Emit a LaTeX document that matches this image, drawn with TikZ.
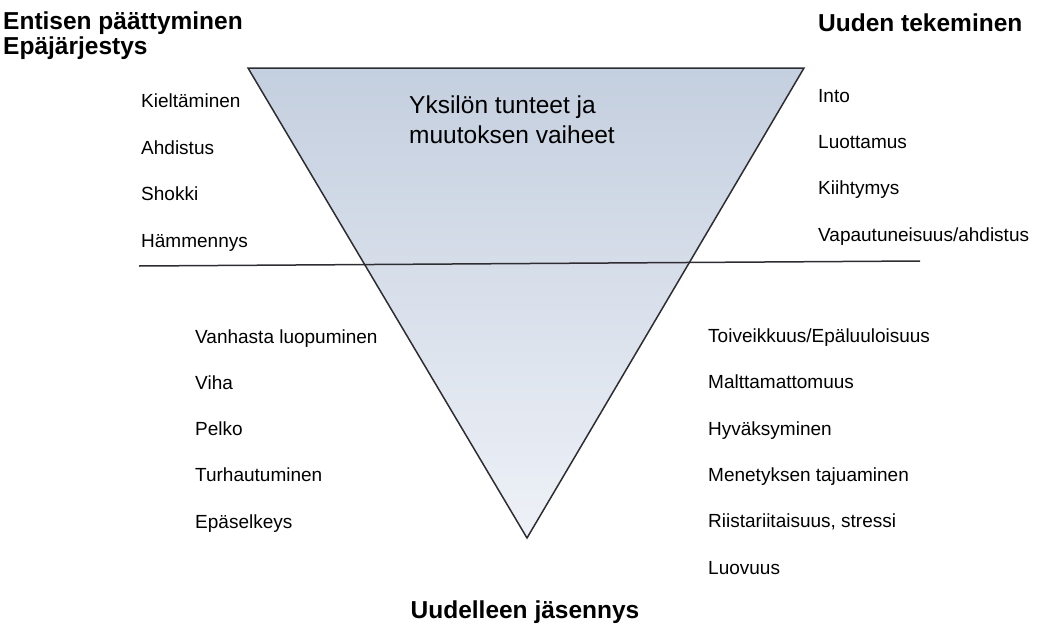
\documentclass[tikz,border=0pt]{standalone}
\usepackage{fontspec}
\setmainfont{Liberation Sans}
\definecolor{triTop}{RGB}{196,207,223}
\definecolor{triBot}{RGB}{238,241,247}
\definecolor{edge}{RGB}{45,45,50}
\begin{document}
\begin{tikzpicture}[x=1pt,y=-1pt,
  item/.style={anchor=base west,inner sep=0pt,font=\fontsize{19}{23}\selectfont},
  head/.style={anchor=base west,inner sep=0pt,font=\fontsize{24.5}{29}\selectfont\bfseries},
  centertxt/.style={anchor=base west,inner sep=0pt,align=left,font=\fontsize{24.5}{30}\selectfont},
  outline/.style={draw=edge,line width=1.5pt,line join=miter}]
\useasboundingbox (0,0) rectangle (1041,624);
% triangle
\coordinate (tl) at (248,68);
\coordinate (tr) at (804,68);
\coordinate (tip) at (527,538);
\shade[top color=triTop,bottom color=triBot] (tl) -- (tr) -- (tip) -- cycle;
\draw[outline] (tl) -- (tr) -- (tip) -- cycle;
% divider line
\coordinate (hl) at (139,266);
\coordinate (hr) at (920,261);
\draw[draw=edge,line width=1.5pt] (hl) -- (hr);
% headings
\node[head] (h1) at (3,29) {Entisen päättyminen};
\node[head] (h2) at (3,54) {Epäjärjestys};
\node[head] (h3) at (818,31) {Uuden tekeminen};
\node[head,anchor=base] (h4) at (525,618) {Uudelleen jäsennys};
% centre text
\node[centertxt] (ct) at (409,143) {Yksilön tunteet ja\\muutoksen vaiheet};
% upper left
\node[item] (a1) at (141,107) {Kieltäminen};
\node[item] (a2) at (141,154) {Ahdistus};
\node[item] (a3) at (141,200) {Shokki};
\node[item] (a4) at (141,247) {Hämmennys};
% upper right
\node[item] (b1) at (818,102) {Into};
\node[item] (b2) at (818,148) {Luottamus};
\node[item] (b3) at (818,194) {Kiihtymys};
\node[item] (b4) at (818,241) {Vapautuneisuus/ahdistus};
% lower left
\node[item] (c1) at (195,343) {Vanhasta luopuminen};
\node[item] (c2) at (195,389) {Viha};
\node[item] (c3) at (195,435) {Pelko};
\node[item] (c4) at (195,481) {Turhautuminen};
\node[item] (c5) at (195,528) {Epäselkeys};
% lower right
\node[item] (d1) at (708,342) {Toiveikkuus/Epäluuloisuus};
\node[item] (d2) at (708,388) {Malttamattomuus};
\node[item] (d3) at (708,435) {Hyväksyminen};
\node[item] (d4) at (708,481) {Menetyksen tajuaminen};
\node[item] (d5) at (708,527) {Riistariitaisuus, stressi};
\node[item] (d6) at (708,574) {Luovuus};
\end{tikzpicture}
\end{document}
